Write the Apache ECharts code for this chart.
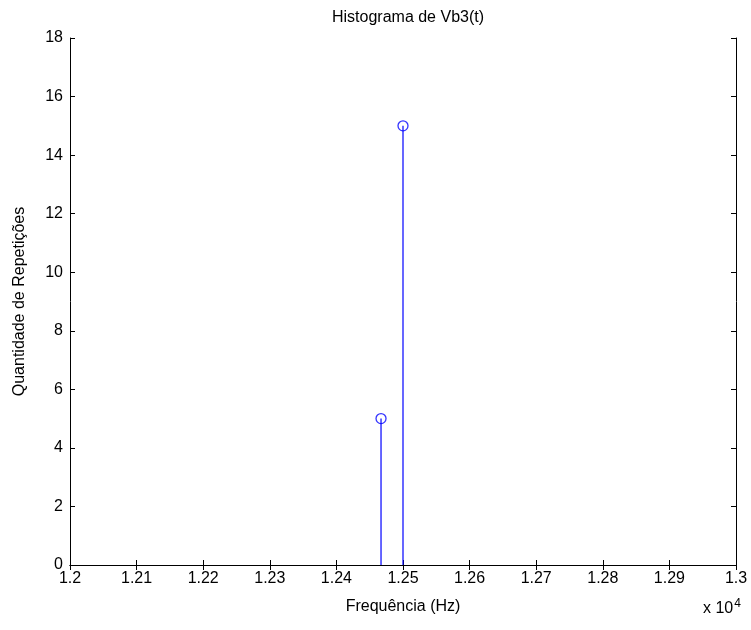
<!DOCTYPE html>
<html>
<head>
<meta charset="utf-8">
<script src="https://cdn.jsdelivr.net/npm/echarts@6/dist/echarts.min.js"></script>
<style>html,body{margin:0;padding:0;background:#fff}#c{width:751px;height:630px}</style>
</head>
<body>
<div id="c"></div>
<script>
// Data
var freqs = [12467, 12500];
var counts = [5, 15];
var titleText = 'Histograma de Vb3(t)';
var xName = 'Frequência (Hz)';
var yName = 'Quantidade de Repetições';

var points = freqs.map(function (f, i) { return [f, counts[i]]; });
var FONT = '"Liberation Sans Narrow", "Arial Narrow", "Liberation Sans", Arial, sans-serif';
var FS = 16;
var axisLine = { show: true, lineStyle: { color: '#000', width: 1 } };
var tick = { show: true, inside: true, length: 5, lineStyle: { color: '#000' } };
var lbl = { color: '#000', fontSize: FS, fontFamily: FONT };

var chart = echarts.init(document.getElementById('c'), null, { renderer: 'canvas' });
chart.setOption({
  animation: false,
  backgroundColor: '#fff',
  title: { text: titleText, left: 403, top: 5, textAlign: 'center',
    textStyle: { fontSize: FS, fontWeight: 'normal', color: '#000', fontFamily: FONT } },
  grid: { left: 70, right: 15, top: 38, bottom: 65, containLabel: false },
  xAxis: [{
    type: 'value', min: 12000, max: 13000, interval: 100,
    axisLine: axisLine, axisTick: tick, splitLine: { show: false },
    axisLabel: Object.assign({ margin: 6, formatter: function (v) { return String(+(v / 10000).toFixed(2)); } }, lbl),
    name: xName, nameLocation: 'middle', nameGap: 34,
    nameTextStyle: { fontSize: FS, color: '#000', fontFamily: FONT }
  }, {
    type: 'value', position: 'top', min: 12000, max: 13000, interval: 100,
    axisLine: axisLine, axisTick: tick, axisLabel: { show: false }, splitLine: { show: false }
  }],
  yAxis: [{
    type: 'value', min: 0, max: 18, interval: 2,
    axisLine: axisLine, axisTick: tick, splitLine: { show: false },
    axisLabel: Object.assign({ margin: 7 }, lbl),
    name: yName, nameLocation: 'middle', nameGap: 42, nameRotate: 90,
    nameTextStyle: { fontSize: FS, color: '#000', fontFamily: FONT }
  }, {
    type: 'value', position: 'right', min: 0, max: 18, interval: 2,
    axisLine: axisLine, axisTick: tick, axisLabel: { show: false }, splitLine: { show: false }
  }],
  graphic: [{
    type: 'text', left: 703, top: 598,
    style: { text: 'x 10{s|4}', fill: '#000', font: FS + 'px ' + FONT,
      rich: { s: { fontSize: 12, verticalAlign: 'top', padding: [0, 0, 9, 1], fontFamily: FONT } } }
  }],
  series: [{
    type: 'custom',
    data: points,
    renderItem: function (params, api) {
      var p0 = api.coord([api.value(0), 0]);
      var p1 = api.coord([api.value(0), api.value(1)]);
      return { type: 'line', shape: { x1: p0[0], y1: p0[1], x2: p1[0], y2: p1[1] },
        style: { stroke: '#0000ff', lineWidth: 1.2 } };
    },
    z: 2
  }, {
    type: 'scatter',
    data: points,
    symbol: 'circle', symbolSize: 10,
    itemStyle: { color: 'rgba(0,0,0,0)', borderColor: '#0000ff', borderWidth: 1.3 },
    z: 3
  }]
});
</script>
</body>
</html>
